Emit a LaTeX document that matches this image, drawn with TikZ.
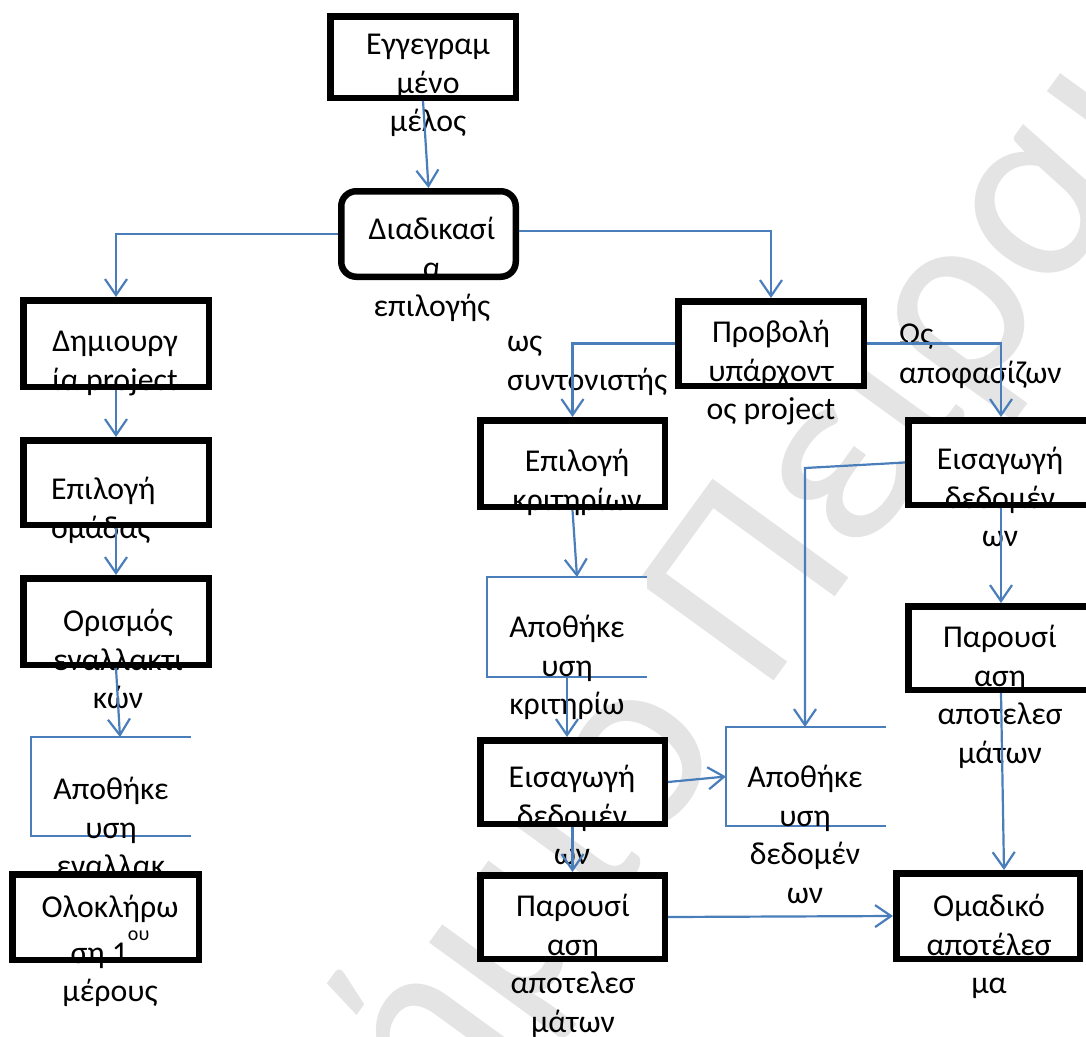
\documentclass[tikz,border=0pt]{standalone}
\usepackage{fontspec}
\setmainfont{Carlito}
\usetikzlibrary{arrows.meta}
\definecolor{linkblue}{RGB}{74,126,187}
\definecolor{wmgray}{RGB}{228,228,228}
\begin{document}
\begin{tikzpicture}[x=1pt,y=-1pt,
  box/.style={draw=black, line width=6.5pt, fill=white, rectangle, inner sep=0pt},
  rbox/.style={box, rounded corners=15pt},
  store/.style={rectangle, fill=white, inner sep=0pt, outer sep=0pt},
  storeline/.style={draw=linkblue, line width=1.8pt},
  txt/.style={inner sep=0pt, outer sep=0pt, align=center, anchor=north,
    font=\fontsize{31.8}{38.5}\selectfont},
  ltxt/.style={txt, align=left, anchor=north west},
  wm/.style={inner sep=0pt, text=wmgray, font=\fontsize{262}{262}\selectfont},
  flow/.style={draw=linkblue, line width=2.2pt,
    -{Straight Barb[length=16pt,width=22pt]}},
]
\useasboundingbox (0,0) rectangle (1086,1036);

% background watermark
\begin{scope}
  \clip (0,0) rectangle (1086,1036);
  \node[wm, anchor=base west, rotate=54] (wmB) at (763,696) {Πειραιώς};
  \node[wm, anchor=base east, rotate=54] (wmA) at (729,744) {Πανεπιστήμιο};
\end{scope}

% top
\node[box, minimum width=185.5, minimum height=81.5] (b1) at (423,57) {};
\node[txt] (t1) at (428,28) {\strut Εγγεγραμ\\μένο\\μέλος};
\node[rbox, minimum width=174.5, minimum height=85.5] (b2) at (428.5,234) {};
\node[txt] (t2) at (432,213) {\strut Διαδικασί\\α\\επιλογής};

% left column
\node[box, minimum width=185.5, minimum height=86.5] (b3) at (116,343.5) {};
\node[txt] (t3) at (115,325) {\strut Δημιουργ\\ία project};
\node[box, minimum width=185.5, minimum height=84.5] (b4) at (116,482.5) {};
\node[ltxt] (t4) at (51,473) {\strut Επιλογή\\ομάδας};
\node[box, minimum width=185.5, minimum height=86.5] (b5) at (116,621.5) {};
\node[txt] (t5) at (118,605) {\strut Ορισμός\\εναλλακτι\\κών};
\node[store, minimum width=160, minimum height=99] (s6) at (111,786.5) {};
\draw[storeline] (s6.north east) -- (s6.north west) -- (s6.south west) -- (s6.south east);
\node[txt] (t6) at (111,773) {\strut Αποθήκε\\υση\\εναλλακ};
\node[box, minimum width=186.5, minimum height=85.5] (b7) at (105.5,917) {};
\node[txt] (t7) at (110,891) {\strut Ολοκλήρω\\ση 1\raisebox{23pt}{\fontsize{20}{20}\selectfont ου}\\μέρους};

% middle column
\node[box, minimum width=185.5, minimum height=84.5] (b8) at (771,343.5) {};
\node[txt] (t8) at (771,316) {\strut Προβολή\\υπάρχοντ\\ος project};
\node[ltxt] (t9) at (507,325) {\strut ως\\συντονιστής};
\node[box, minimum width=184.5, minimum height=86.5] (b10) at (572.5,463.5) {};
\node[txt] (t10) at (577,445) {\strut Επιλογή\\κριτηρίων};
\node[store, minimum width=160, minimum height=100] (s11) at (567,627) {};
\draw[storeline] (s11.north east) -- (s11.north west) -- (s11.south west) -- (s11.south east);
\node[txt] (t11) at (567,611) {\strut Αποθήκε\\υση\\κριτηρίω};
\node[box, minimum width=184.5, minimum height=83.5] (b12) at (572.5,782) {};
\node[txt] (t12) at (572,761) {\strut Εισαγωγή\\δεδομέν\\ων};
\node[box, minimum width=184.5, minimum height=83.5] (b13) at (572.5,917) {};
\node[txt] (t13) at (573,890) {\strut Παρουσί\\αση\\αποτελεσ\\μάτων};
\node[store, minimum width=160, minimum height=99] (s14) at (806,776.5) {};
\draw[storeline] (s14.north east) -- (s14.north west) -- (s14.south west) -- (s14.south east);
\node[txt] (t14) at (805,761) {\strut Αποθήκε\\υση\\δεδομέν\\ων};

% right column
\node[ltxt] (t15) at (899,318) {\strut Ως\\αποφασίζων};
\node[box, minimum width=185.5, minimum height=84.5] (b16) at (1001,462.5) {};
\node[txt] (t16) at (1000,443) {\strut Εισαγωγή\\δεδομέν\\ων};
\node[box, minimum width=185.5, minimum height=83.5] (b17) at (1001,648) {};
\node[txt] (t17) at (1000,621) {\strut Παρουσί\\αση\\αποτελεσ\\μάτων};
\node[box, minimum width=183.5, minimum height=85.5] (b18) at (988,916) {};
\node[txt] (t18) at (989,890) {\strut Ομαδικό\\αποτέλεσ\\μα};

\coordinate (k1) at (805,468);

% connectors
\draw[flow] (b1.south) -- (b2.north);
\draw[flow] (b2.west) -| (b3.north);
\draw[flow] ([yshift=3pt]b2.east) -| (b8.north);
\draw[flow] (b3.south) -- (b4.north);
\draw[flow] (b4.south) -- (b5.north);
\draw[flow] (b5.south) -- ([xshift=9pt]s6.north);
\draw[flow] (b8.west) -| (b10.north);
\draw[flow] (b10.south) -- ([xshift=10pt]s11.north);
\draw[flow] (s11.south) -- (s11.south |- b12.north);
\draw[flow] (b12.south) -- (b13.north);
\draw[flow] (b12.east) -- (s14.west);
\draw[flow] (b13.east) -- (b18.west);
\draw[flow] (b8.east) -| (b16.north);
\draw[flow] (b16.west) -- (k1) -- (k1 |- s14.north);
\draw[flow] (b16.south) -- (b17.north);
\draw[flow] (b17.south) -- ([xshift=16pt]b18.north);
\end{tikzpicture}
\end{document}
